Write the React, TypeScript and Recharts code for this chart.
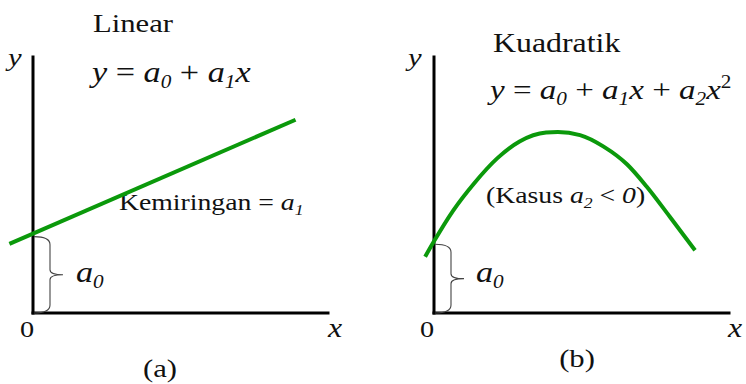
import React from "react";
import { LineChart, Line, XAxis, YAxis, ReferenceLine } from "recharts";

// Panel (a): straight line y = a0 + a1 x
const linearX = [-0.8, 8.9];
const linearY = [2.7, 7.55];
const linearIntercept = 3.1;

// Panel (b): parabola with a2 < 0
const quadX = [-0.3, 0, 0.65, 1.35, 2.15, 2.9, 3.8, 4.2, 4.95, 5.75, 6.55, 7.2, 8.0, 8.85];
const quadY = [2.2, 2.8, 4.0, 5.05, 6.05, 6.7, 7.05, 7.07, 6.95, 6.5, 5.8, 4.95, 3.75, 2.45];
const quadIntercept = 2.8;

const axisLength = 10;

const linearData = linearX.map((x, i) => ({ x, y: linearY[i] }));
const quadData = quadX.map((x, i) => ({ x, y: quadY[i] }));

const W = 373;
const H = 384;
const GREEN = "#0b990b";
const FONT = "'Liberation Serif', 'Times New Roman', serif";

function Txt({ x, y, size, anchor = "start", italic = false, children }: any) {
  return (
    <g transform={`translate(${x},${y}) scale(1.18,1)`}>
      <text
        x={0}
        y={0}
        fontFamily={FONT}
        fontSize={size}
        fill="#111"
        textAnchor={anchor}
        fontStyle={italic ? "italic" : "normal"}
      >
        {children}
      </text>
    </g>
  );
}

// curly brace drawn to the right of the y axis between the two segment ends
function Brace(p: any) {
  const x = p.x1 + 1;
  const top = Math.min(p.y1, p.y2) + 3;
  const bot = Math.max(p.y1, p.y2);
  const mid = (top + bot) / 2;
  const w = 16;
  const r = 8;
  const d =
    `M${x},${top} Q${x + w},${top} ${x + w},${top + r} L${x + w},${mid - 5} ` +
    `Q${x + w},${mid} ${x + w + 13},${mid} Q${x + w},${mid} ${x + w},${mid + 5} ` +
    `L${x + w},${bot - r} Q${x + w},${bot} ${x},${bot}`;
  return <path d={d} fill="none" stroke="#444" strokeWidth={1.1} />;
}

function Axes({ intercept }: { intercept: number }) {
  return [
    <ReferenceLine
      key="yaxis"
      segment={[{ x: 0, y: 0 }, { x: 0, y: axisLength }]}
      stroke="#000"
      strokeWidth={3}
      strokeLinecap="square"
    />,
    <ReferenceLine
      key="xaxis"
      segment={[{ x: 0, y: 0 }, { x: axisLength, y: 0 }]}
      stroke="#000"
      strokeWidth={3}
      strokeLinecap="square"
    />,
    <ReferenceLine key="brace" segment={[{ x: 0, y: 0 }, { x: 0, y: intercept }]} shape={Brace} />,
  ];
}

function Panel({ data, left, intercept, children }: any) {
  return (
    <LineChart
      width={W}
      height={H}
      data={data}
      margin={{ top: 31.4, bottom: 45.4, left, right: W - left - 339.25 }}
    >
      <XAxis type="number" dataKey="x" domain={[-1, 10.5]} hide />
      <YAxis type="number" domain={[-1, 11]} hide />
      {Axes({ intercept })}
      <Line
        type="monotone"
        dataKey="y"
        stroke={GREEN}
        strokeWidth={4}
        dot={false}
        activeDot={false}
        isAnimationActive={false}
      />
      {children}
    </LineChart>
  );
}

export default function App() {
  return (
    <div style={{ position: "absolute", left: 0, top: 0, width: 746, height: 384, display: "flex", background: "#fff" }}>
      <Panel data={linearData} left={3.5} intercept={linearIntercept}>
        <Txt x={93} y={32} size={26}>Linear</Txt>
        <Txt x={8} y={66} size={26} italic>y</Txt>
        <Txt x={92} y={82} size={29} italic>
          y<tspan fontStyle="normal"> = </tspan>a
          <tspan fontSize={18} dy={6}>0</tspan>
          <tspan dy={-6} fontStyle="normal"> + </tspan>a
          <tspan fontSize={18} dy={6}>1</tspan>
          <tspan dy={-6}>x</tspan>
        </Txt>
        <Txt x={119} y={210} size={23.5}>
          Kemiringan = <tspan fontStyle="italic">a</tspan>
          <tspan fontStyle="italic" fontSize={15} dy={5}>1</tspan>
        </Txt>
        <Txt x={76} y={282} size={29} italic>
          a<tspan fontSize={18} dy={6}>0</tspan>
        </Txt>
        <Txt x={20} y={337} size={24}>0</Txt>
        <Txt x={328} y={337} size={27} italic>x</Txt>
        <Txt x={160} y={377} size={26} anchor="middle">(a)</Txt>
      </Panel>
      <Panel data={quadData} left={31.5} intercept={quadIntercept}>
        <Txt x={120} y={52} size={27}>Kuadratik</Txt>
        <Txt x={35} y={66} size={26} italic>y</Txt>
        <Txt x={117} y={99} size={28} italic>
          y<tspan fontStyle="normal"> = </tspan>a
          <tspan fontSize={18} dy={6}>0</tspan>
          <tspan dy={-6} fontStyle="normal"> + </tspan>a
          <tspan fontSize={18} dy={6}>1</tspan>
          <tspan dy={-6}>x</tspan>
          <tspan fontStyle="normal"> + </tspan>a
          <tspan fontSize={18} dy={6}>2</tspan>
          <tspan dy={-6}>x</tspan>
          <tspan fontSize={18} fontStyle="normal" dy={-11}>2</tspan>
        </Txt>
        <Txt x={113} y={203} size={23.5}>
          (Kasus <tspan fontStyle="italic">a</tspan>
          <tspan fontStyle="italic" fontSize={15} dy={5}>2</tspan>
          <tspan dy={-5}> &lt; </tspan>
          <tspan fontStyle="italic">0</tspan>)
        </Txt>
        <Txt x={103} y={282} size={29} italic>
          a<tspan fontSize={18} dy={6}>0</tspan>
        </Txt>
        <Txt x={47} y={337} size={24}>0</Txt>
        <Txt x={355} y={337} size={27} italic>x</Txt>
        <Txt x={204} y={367} size={26} anchor="middle">(b)</Txt>
      </Panel>
    </div>
  );
}
